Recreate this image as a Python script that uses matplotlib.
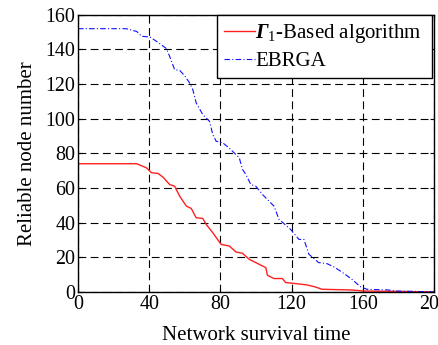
import matplotlib as mpl
mpl.use('Agg')
import matplotlib.pyplot as plt

plt.rcParams['font.family'] = ['Liberation Serif', 'DejaVu Serif']
plt.rcParams['mathtext.fontset'] = 'custom'
plt.rcParams['mathtext.rm'] = 'Liberation Serif'
plt.rcParams['mathtext.it'] = 'Liberation Serif:italic'
plt.rcParams['mathtext.bf'] = 'Liberation Serif:bold'
plt.rcParams['mathtext.bfit'] = 'Liberation Serif:bold:italic'

# 数据
t_gamma = [0, 33, 38.5, 41.3, 45, 48, 51.5, 54.3, 57.1, 60.9, 63.6, 66.4, 70.1, 72,
           75.7, 80.4, 85, 88.8, 92.4, 96.2, 101.8, 105.5, 106.4, 110.1, 114.8, 116.6,
           122.2, 128.7, 133.4, 137.1, 153.8, 160, 200]
n_gamma = [74, 74, 71.6, 68.8, 68.4, 66, 62, 61, 55.3, 49.5, 48.2, 42.8, 42.4, 39,
           34.2, 27.4, 26.5, 23, 22.3, 18.8, 15.9, 14, 9.6, 7.7, 7.7, 5.4,
           4.8, 4, 2.8, 1.5, 1.1, 0.5, 0]

t_ebrga = [0, 27, 33, 35.8, 40.4, 44.1, 49.7, 51.5, 54.3, 57.1, 59.9, 62.7, 64.5,
           66.4, 70.1, 73.9, 75.7, 77.6, 81.3, 85, 90.6, 92.4, 94.3, 97.1, 99.9,
           103.6, 107.3, 110.1, 112.9, 119.4, 124.1, 126.9, 129.7, 135.2, 139.9,
           144.5, 150.1, 153.8, 158.5, 162.2, 174.3, 178, 200]
n_ebrga = [152, 152, 150.4, 147.6, 147.2, 144.7, 140.5, 136, 128.3, 127.9, 124.9,
           120.7, 116.8, 109.1, 102.4, 98.5, 90.9, 87, 86.1, 83, 77.4, 70.7, 67.8,
           62, 61, 56.3, 52.4, 49.5, 41.9, 36.1, 30.3, 30.3, 21.7, 16.9, 16.3,
           14, 10.1, 7.3, 3.1, 1.5, 1.1, 0.5, 0]

xticks = [0, 40, 80, 120, 160, 200]
yticks = [0, 20, 40, 60, 80, 100, 120, 140, 160]

fig = plt.figure(figsize=(4.38, 3.45), dpi=100)
ax = fig.add_axes([0.178, 0.154, 0.813, 0.803])

ax.plot(t_gamma, n_gamma, color='#ff2020', linewidth=1.0,
        label=r'$\mathbfit{\Gamma}_{1}$-Based algorithm')
ax.plot(t_ebrga, n_ebrga, color='#1010ff', linewidth=0.8,
        linestyle=(0, (5, 2, 1, 2)), label='EBRGA')

ax.set_xlim(0, 200)
ax.set_ylim(0, 160)
ax.set_xticks(xticks)
ax.set_yticks(yticks)
ax.tick_params(direction='in', top=True, right=True, labelsize=14.4, length=3, pad=2)
ax.grid(True, color='k', linestyle=(0, (7, 4)), linewidth=0.8)
for s in ax.spines.values():
    s.set_linewidth(1.0)

ax.set_xlabel('Network survival time', fontsize=15, labelpad=9)
ax.set_ylabel('Reliable node number', fontsize=15, labelpad=6)

# 图例框: 右上角, 宽度固定
leg = ax.legend(loc='upper left', bbox_to_anchor=(0.39, 0.0, 0.604, 1.0), mode='expand',
                fontsize=15, fancybox=False, framealpha=1, edgecolor='k',
                borderaxespad=0, handlelength=1.5, handletextpad=0.0,
                borderpad=0.35, labelspacing=0.3)
leg.get_frame().set_linewidth(1.0)

fig.savefig('out.png', dpi=100)
